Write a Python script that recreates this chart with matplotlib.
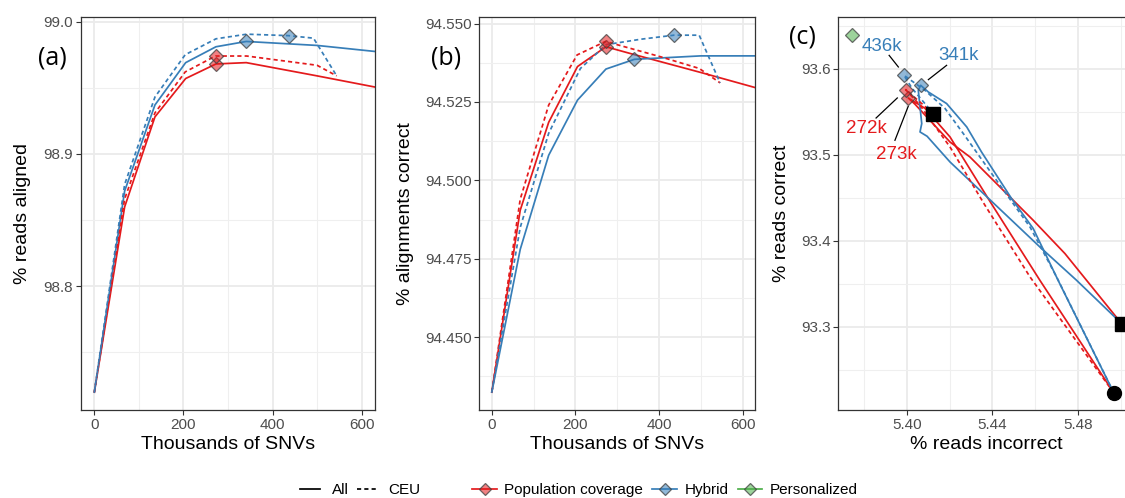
import matplotlib
matplotlib.use("Agg")
import matplotlib.pyplot as plt
from matplotlib.colors import to_rgba
from matplotlib.lines import Line2D

plt.rcParams["font.family"] = ["Liberation Sans", "DejaVu Sans"]

RED = "#E41A1C"
BLUE = "#377EB8"
GREEN = "#4DAF4A"

# ---- panel (a): % reads aligned vs thousands of SNVs ----
a_pop_all_x = [0, 68, 136, 205, 273, 341, 500, 700]
a_pop_all_y = [98.720, 98.860, 98.928, 98.957, 98.968, 98.969, 98.959, 98.946]
a_hyb_all_x = [0, 68, 136, 205, 273, 341, 500, 700]
a_hyb_all_y = [98.720, 98.872, 98.937, 98.969, 98.981, 98.985, 98.982, 98.975]
a_pop_ceu_x = [0, 68, 136, 204, 272, 342, 500, 544]
a_pop_ceu_y = [98.720, 98.866, 98.931, 98.962, 98.974, 98.974, 98.967, 98.959]
a_hyb_ceu_x = [0, 68, 136, 204, 273, 342, 436, 492, 544]
a_hyb_ceu_y = [98.720, 98.877, 98.943, 98.975, 98.987, 98.9905, 98.9894, 98.9875, 98.959]

# ---- panel (b): % alignments correct vs thousands of SNVs ----
b_pop_all_x = [0, 68, 136, 205, 273, 341, 500, 700]
b_pop_all_y = [94.4325, 94.4905, 94.5185, 94.5363, 94.5426, 94.5401, 94.5344, 94.5270]
b_hyb_all_x = [0, 68, 136, 205, 273, 341, 500, 700]
b_hyb_all_y = [94.4325, 94.4780, 94.5080, 94.5256, 94.5355, 94.5386, 94.5397, 94.5397]
b_pop_ceu_x = [0, 68, 136, 204, 272, 404, 496, 546]
b_pop_ceu_y = [94.4325, 94.4940, 94.5240, 94.5400, 94.5443, 94.5394, 94.5357, 94.5311]
b_hyb_ceu_x = [0, 68, 136, 212, 274, 356, 436, 496, 546]
b_hyb_ceu_y = [94.4325, 94.4850, 94.5150, 94.5357, 94.5433, 94.5450, 94.5463, 94.5463, 94.5311]

# optimum (diamond) points: population All / CEU, hybrid All / CEU
opt_pop_x = [273, 272]
opt_hyb_x = [341, 436]
a_opt_pop_y = [98.968, 98.974]
a_opt_hyb_y = [98.985, 98.9894]
b_opt_pop_y = [94.5426, 94.5443]
b_opt_hyb_y = [94.5386, 94.5463]

# ---- panel (c): % reads correct vs % reads incorrect ----
c_pop_all_x = [5.4966, 5.4621, 5.4380, 5.4202, 5.4085, 5.4007, 5.4039, 5.4202,
               5.4295, 5.4590, 5.4738, 5.5002]
c_pop_all_y = [93.2232, 93.3541, 93.4490, 93.5206, 93.5539, 93.5659, 93.5585, 93.5147,
               93.4973, 93.4238, 93.3851, 93.3038]
c_pop_ceu_x = [5.4966, 5.4575, 5.4365, 5.4202, 5.4062, 5.3995, 5.4124]
c_pop_ceu_y = [93.2232, 93.3580, 93.4412, 93.5089, 93.5574, 93.5756, 93.5477]
c_hyb_all_x = [5.4966, 5.4706, 5.4590, 5.4489, 5.4349, 5.4280, 5.4186, 5.4101, 5.4065,
               5.4054, 5.4070, 5.4062, 5.4095, 5.4202, 5.4621, 5.4792, 5.5002]
c_hyb_all_y = [93.2232, 93.3541, 93.4142, 93.4490, 93.5031, 93.5322, 93.5594, 93.5728, 93.5806,
               93.5748, 93.5361, 93.5264, 93.5214, 93.4915, 93.3928, 93.3541, 93.3038]
c_hyb_ceu_x = [5.4966, 5.4699, 5.4575, 5.4435, 5.4264, 5.4178, 5.4085, 5.3987, 5.4025, 5.4124]
c_hyb_ceu_y = [93.2232, 93.3580, 93.4160, 93.4645, 93.5245, 93.5539, 93.5748, 93.5922, 93.5771, 93.5477]

c_opt_pop_x = [5.4007, 5.3995]
c_opt_pop_y = [93.5659, 93.5756]
c_opt_hyb_x = [5.4065, 5.3987]
c_opt_hyb_y = [93.5806, 93.5922]
c_pers_x = [5.3744]
c_pers_y = [93.6387]
c_square_x = [5.4124, 5.5002]
c_square_y = [93.5477, 93.3038]
c_circle_x = [5.4966]
c_circle_y = [93.2233]

# label text, where it sits, and where its leader line ends
c_labels = ["436k", "341k", "272k", "273k"]
c_label_colors = [BLUE, BLUE, RED, RED]
c_label_pos = [(5.3884, 93.6259), (5.4240, 93.6154), (5.3810, 93.5303), (5.3950, 93.5005)]
c_leader_from = [(5.3918, 93.6154), (5.4186, 93.6038), (5.3857, 93.5426), (5.3945, 93.5167)]
c_leader_to = [(5.3961, 93.6019), (5.4101, 93.5872), (5.3956, 93.5659), (5.4007, 93.5562)]

DASH = (0, (2.4, 1.8))
LW = 1.25
TICK_COLOR = "#4D4D4D"


def diamond_style(color, ms):
    return dict(linestyle="none", marker="D", markersize=ms,
                markerfacecolor=to_rgba(color, 0.55),
                markeredgecolor=(0.25, 0.25, 0.25, 0.75), markeredgewidth=0.9, zorder=4)


def style_axes(ax):
    ax.set_axisbelow(True)
    ax.grid(which="major", color="#EBEBEB", linewidth=1.3)
    ax.grid(which="minor", color="#EFEFEF", linewidth=0.8)
    for spine in ax.spines.values():
        spine.set_color("#333333")
        spine.set_linewidth(0.9)
    ax.tick_params(which="major", length=3.5, width=0.8, color="#333333",
                   labelsize=11, labelcolor=TICK_COLOR, pad=2)
    ax.tick_params(which="minor", length=0)


fig = plt.figure(figsize=(11.25, 4.98), dpi=100)
ax_a = fig.add_axes([0.0720, 0.1767, 0.2613, 0.7892])
ax_b = fig.add_axes([0.4260, 0.1767, 0.2453, 0.7892])
ax_c = fig.add_axes([0.7452, 0.1767, 0.2637, 0.7892])

# panel (a)
ax_a.plot(a_pop_all_x, a_pop_all_y, color=RED, lw=LW)
ax_a.plot(a_hyb_all_x, a_hyb_all_y, color=BLUE, lw=LW)
ax_a.plot(a_pop_ceu_x, a_pop_ceu_y, color=RED, lw=LW, linestyle=DASH)
ax_a.plot(a_hyb_ceu_x, a_hyb_ceu_y, color=BLUE, lw=LW, linestyle=DASH)
ax_a.plot(opt_pop_x, a_opt_pop_y, **diamond_style(RED, 7.5))
ax_a.plot(opt_hyb_x, a_opt_hyb_y, **diamond_style(BLUE, 7.5))
ax_a.set_xlim(-30, 630)
ax_a.set_ylim(98.7065, 99.0035)
ax_a.set_xticks([0, 200, 400, 600])
ax_a.set_xticks([100, 300, 500], minor=True)
ax_a.set_yticks([98.8, 98.9, 99.0])
ax_a.set_yticks([98.75, 98.85, 98.95], minor=True)
ax_a.set_yticklabels(["98.8", "98.9", "99.0"])
ax_a.set_xlabel("Thousands of SNVs", fontsize=14, labelpad=3)
ax_a.set_ylabel("% reads aligned", fontsize=14, labelpad=9)

# panel (b)
ax_b.plot(b_pop_all_x, b_pop_all_y, color=RED, lw=LW)
ax_b.plot(b_hyb_all_x, b_hyb_all_y, color=BLUE, lw=LW)
ax_b.plot(b_pop_ceu_x, b_pop_ceu_y, color=RED, lw=LW, linestyle=DASH)
ax_b.plot(b_hyb_ceu_x, b_hyb_ceu_y, color=BLUE, lw=LW, linestyle=DASH)
ax_b.plot(opt_pop_x, b_opt_pop_y, **diamond_style(RED, 7.5))
ax_b.plot(opt_hyb_x, b_opt_hyb_y, **diamond_style(BLUE, 7.5))
ax_b.set_xlim(-30, 630)
ax_b.set_ylim(94.4268, 94.5521)
ax_b.set_xticks([0, 200, 400, 600])
ax_b.set_xticks([100, 300, 500], minor=True)
b_ticks = [94.450, 94.475, 94.500, 94.525, 94.550]
ax_b.set_yticks(b_ticks)
ax_b.set_yticklabels([f"{t:.3f}" for t in b_ticks])
ax_b.set_yticks([94.4375, 94.4625, 94.4875, 94.5125, 94.5375], minor=True)
ax_b.set_xlabel("Thousands of SNVs", fontsize=14, labelpad=3)
ax_b.set_ylabel("% alignments correct", fontsize=14, labelpad=8)

# panel (c)
ax_c.plot(c_pop_all_x, c_pop_all_y, color=RED, lw=LW)
ax_c.plot(c_hyb_all_x, c_hyb_all_y, color=BLUE, lw=LW)
ax_c.plot(c_pop_ceu_x, c_pop_ceu_y, color=RED, lw=LW, linestyle=DASH)
ax_c.plot(c_hyb_ceu_x, c_hyb_ceu_y, color=BLUE, lw=LW, linestyle=DASH)
ax_c.plot(c_opt_pop_x, c_opt_pop_y, **diamond_style(RED, 7.0))
ax_c.plot(c_opt_hyb_x, c_opt_hyb_y, **diamond_style(BLUE, 7.0))
ax_c.plot(c_pers_x, c_pers_y, **diamond_style(GREEN, 7.0))
ax_c.plot(c_square_x, c_square_y, linestyle="none", marker="s", markersize=9.5,
          color="black", zorder=5, clip_on=False)
ax_c.plot(c_circle_x, c_circle_y, linestyle="none", marker="o", markersize=10,
          color="black", zorder=5, clip_on=False)
for text, color, pos, p0, p1 in zip(c_labels, c_label_colors, c_label_pos,
                                    c_leader_from, c_leader_to):
    ax_c.plot([p0[0], p1[0]], [p0[1], p1[1]], color="black", lw=0.9, zorder=3)
    ax_c.text(pos[0], pos[1], text, color=color, fontsize=13.5, ha="center", va="center")
ax_c.set_xlim(5.3681, 5.5065)
ax_c.set_ylim(93.2033, 93.6600)
c_xticks = [5.40, 5.44, 5.48]
ax_c.set_xticks(c_xticks)
ax_c.set_xticklabels([f"{t:.2f}" for t in c_xticks])
ax_c.set_xticks([5.38, 5.42, 5.46, 5.50], minor=True)
c_yticks = [93.3, 93.4, 93.5, 93.6]
ax_c.set_yticks(c_yticks)
ax_c.set_yticklabels([f"{t:.1f}" for t in c_yticks])
ax_c.set_yticks([93.25, 93.35, 93.45, 93.55, 93.65], minor=True)
ax_c.set_xlabel("% reads incorrect", fontsize=14, labelpad=3)
ax_c.set_ylabel("% reads correct", fontsize=14, labelpad=8)

for ax in (ax_a, ax_b, ax_c):
    style_axes(ax)

panel_font = ["Open Sans", "DejaVu Sans"]
fig.text(0.034, 0.883, "(a)", fontsize=18, family=panel_font, va="center")
fig.text(0.383, 0.883, "(b)", fontsize=18, family=panel_font, va="center")
fig.text(0.701, 0.926, "(c)", fontsize=18, family=panel_font, va="center")

# legends
lt_handles = [Line2D([], [], color="black", lw=LW),
              Line2D([], [], color="black", lw=LW, linestyle=DASH)]
fig.legend(lt_handles, ["All", "CEU"], loc="center", bbox_to_anchor=(0.3204, 0.016),
           ncol=2, frameon=False, fontsize=11, handlelength=1.3, handletextpad=0.8,
           columnspacing=0.5, borderpad=0, borderaxespad=0)

col_handles = []
for color in (RED, BLUE, GREEN):
    h = Line2D([], [], color=color, lw=LW, marker="D", markersize=6.5,
               markerfacecolor=to_rgba(color, 0.55),
               markeredgecolor=(0.25, 0.25, 0.25, 0.75), markeredgewidth=0.9)
    col_handles.append(h)
fig.legend(col_handles, ["Population coverage", "Hybrid", "Personalized"], loc="center",
           bbox_to_anchor=(0.5912, 0.016), ncol=3, frameon=False, fontsize=11,
           handlelength=1.6, handletextpad=0.5, columnspacing=0.6, borderpad=0,
           borderaxespad=0)

fig.savefig("out.png", dpi=100)
